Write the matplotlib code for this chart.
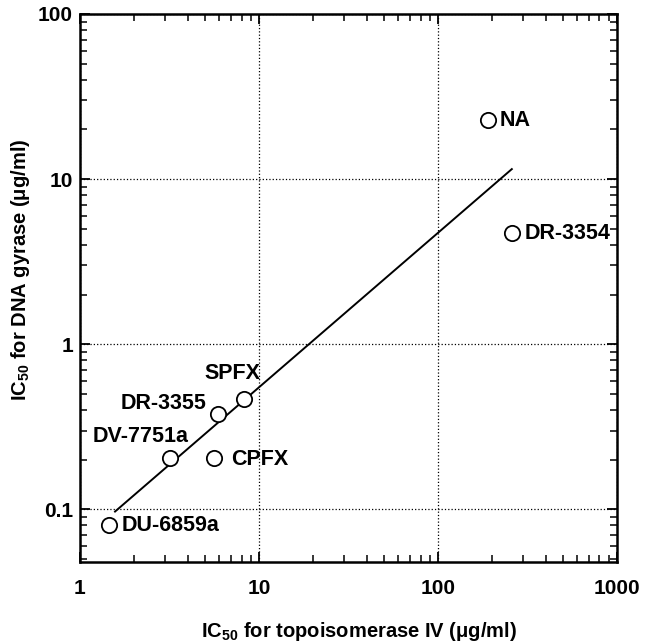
import numpy as np
import matplotlib
matplotlib.use('Agg')
import matplotlib.pyplot as plt
from matplotlib.ticker import LogLocator, NullFormatter

plt.rcParams['font.family'] = ['Liberation Sans', 'DejaVu Sans']
plt.rcParams['font.weight'] = 'bold'
plt.rcParams['mathtext.fontset'] = 'custom'
plt.rcParams['mathtext.rm'] = 'Liberation Sans:bold'
plt.rcParams['mathtext.default'] = 'regular'

## Data ##
names = ['NA', 'DR-3354', 'SPFX', 'DR-3355', 'DV-7751a', 'CPFX', 'DU-6859a']
ic50_topo = [190, 259, 8.25, 5.9, 3.18, 5.6, 1.45]      # x, ug/ml
ic50_gyrase = [22.8, 4.7, 0.464, 0.377, 0.204, 0.204, 0.080]  # y, ug/ml

# regression line end points
fit_x = [1.57, 259]
fit_y = [0.097, 11.5]

x_ticks = [1, 10, 100, 1000]
x_ticklabels = ['1', '10', '100', '1000']
y_ticks = [0.1, 1, 10, 100]
y_ticklabels = ['0.1', '1', '10', '100']

# label placement: offset in pixels and alignment
label_pos = {
    'NA': (12, 0, 'left'),
    'DR-3354': (13, 0, 'left'),
    'SPFX': (-12, 26, 'center'),
    'DR-3355': (-11, 11, 'right'),
    'DV-7751a': (19, 22, 'right'),
    'CPFX': (17, -1, 'left'),
    'DU-6859a': (13, 0, 'left'),
}

fig = plt.figure(figsize=(6.46, 6.42), dpi=100)
ax = fig.add_axes([0.1238, 0.1246, 0.831, 0.8536])

ax.set_xscale('log')
ax.set_yscale('log')
ax.set_xlim(1, 1000)
ax.set_ylim(0.048, 100)

ax.grid(True, which='major', linestyle=':', color='black', linewidth=0.9)

ax.plot(fit_x, fit_y, color='black', linewidth=1.4, zorder=2)
ax.plot(ic50_topo, ic50_gyrase, linestyle='none', marker='o', markersize=11,
        markerfacecolor='white', markeredgecolor='black', markeredgewidth=1.3, zorder=3)

for n, x, y in zip(names, ic50_topo, ic50_gyrase):
    dx, dy, ha = label_pos[n]
    ax.annotate(n, (x, y), xytext=(dx, dy), textcoords='offset pixels',
                ha=ha, va='center', fontsize=15.5, fontweight='bold', zorder=4)

ax.set_xticks(x_ticks)
ax.set_xticklabels(x_ticklabels)
ax.set_yticks(y_ticks)
ax.set_yticklabels(y_ticklabels)
ax.xaxis.set_minor_locator(LogLocator(base=10, subs=np.arange(2, 10), numticks=20))
ax.yaxis.set_minor_locator(LogLocator(base=10, subs=np.arange(2, 10), numticks=20))
ax.xaxis.set_minor_formatter(NullFormatter())
ax.yaxis.set_minor_formatter(NullFormatter())

ax.tick_params(which='both', direction='in', top=True, right=True, labelsize=15)
ax.tick_params(axis='x', which='major', pad=12)
ax.tick_params(axis='y', which='major', pad=5)
ax.tick_params(which='major', length=7, width=1.3)
ax.tick_params(which='minor', length=5, width=1.1)
for s in ax.spines.values():
    s.set_linewidth(1.8)

ax.set_xlabel('IC$_{50}$ for topoisomerase IV (\u03bcg/ml)', fontsize=14.5, fontweight='bold')
ax.set_ylabel('IC$_{50}$ for DNA gyrase (\u03bcg/ml)', fontsize=14.5, fontweight='bold')
ax.xaxis.set_label_coords(0.52, -0.105)
ax.yaxis.set_label_coords(-0.09, 0.533)

fig.savefig('out.png', dpi=100)
